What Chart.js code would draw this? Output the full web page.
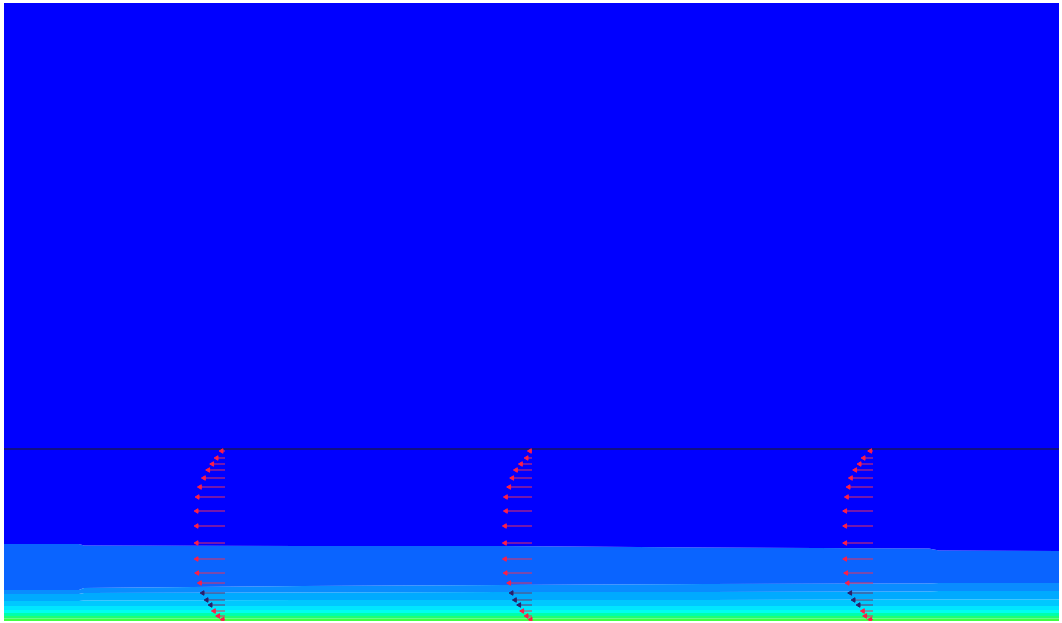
<!DOCTYPE html>
<html>
<head>
<meta charset="utf-8">
<title>Flume velocity profiles</title>
<script src="https://cdn.jsdelivr.net/npm/chart.js@4/dist/chart.umd.min.js"></script>
<style>
  html, body { margin: 0; padding: 0; background: #ffffff; }
  #wrap { position: relative; width: 1062px; height: 623px; }
</style>
</head>
<body>
<div id="wrap"><canvas id="c"></canvas></div>
<script>
// Domain extent (mm)
const DOMAIN_X = [0, 1055];
const DOMAIN_Y = [0, 618];

// Free-surface / interface elevation (mm above bed)
const INTERFACE_Y = 172;

// Contour band boundaries, sampled along the flume
const BOUNDARY_X = [0, 75, 80, 300, 500, 700, 925, 935, 1055];
const BOUNDARY_TOP = [618, 618, 618, 618, 618, 618, 618, 618, 618];
const BOUNDARY_1 = [77, 77, 75.5, 75, 75, 73.5, 72.5, 70.5, 70];
const BOUNDARY_2 = [31, 31, 33, 35, 36, 37, 37.5, 38, 38];
const BOUNDARY_3 = [27, 27, 28, 28.5, 29, 29, 29.5, 30, 30];
const BOUNDARY_4 = [20, 20, 20.5, 21, 21, 21, 21.5, 21.5, 21.5];
const BOUNDARY_5 = [15, 15, 15, 15, 15, 15, 15, 15, 15];
const BOUNDARY_6 = [11, 11, 11, 11, 11, 11, 11, 11, 11];
const BOUNDARY_7 = [8, 8, 8, 8, 8, 8, 8, 8, 8];
const BOUNDARY_8 = [5, 5, 5, 5, 5, 5, 5, 5, 5];
const BOUNDARY_9 = [2.5, 2.5, 2.5, 2.5, 2.5, 2.5, 2.5, 2.5, 2.5];
const BOUNDARY_BED = [0, 0, 0, 0, 0, 0, 0, 0, 0];

// Velocity profile stations and sample heights
const STATION_X = [221, 528, 869];
const PROFILE_HEIGHTS = [170, 163, 157, 151, 143, 134, 124, 110, 95, 78, 62, 48, 38, 28, 21, 16, 10, 5, 1.5];
// Horizontal velocity at each height (negative = towards the left)
const U_STATION_1 = [-3.3, -8.3, -12.7, -16.7, -21, -25, -27.3, -28.3, -28.3, -28.3, -28.3, -27.7, -25, -22.3, -18.3, -14.3, -11, -6.7, -2.3];
const U_STATION_2 = [-2, -5.3, -11, -16, -19.7, -22.7, -26, -26, -27, -27, -27, -26.3, -22.7, -20.3, -17, -12.7, -9.7, -5.3, -1.3];
const U_STATION_3 = [-2.7, -9.3, -13.3, -17.7, -22, -24.3, -26, -27.7, -27.7, -27.7, -27.7, -26.7, -25.3, -22.7, -19.3, -14.3, -10, -7.7, -2.7];

// Rendering settings
const ARROW_SCALE = 1; // mm of arrow length per unit velocity
const BAND_COLORS = ['#0000ff', '#0a64ff', '#0a8cff', '#00aaff', '#00c8ff', '#00e6ff', '#00ffee', '#00ffaa', '#20ff70', '#40ff40'];

const boundaries = [BOUNDARY_TOP, BOUNDARY_1, BOUNDARY_2, BOUNDARY_3, BOUNDARY_4,
  BOUNDARY_5, BOUNDARY_6, BOUNDARY_7, BOUNDARY_8, BOUNDARY_9, BOUNDARY_BED];

const datasets = [];

// Filled contour bands: each boundary fills down to the next one
boundaries.forEach((ys, i) => {
  const isBed = i === boundaries.length - 1;
  datasets.push({
    data: BOUNDARY_X.map((x, k) => ({ x, y: ys[k] })),
    showLine: true,
    pointRadius: 0,
    borderWidth: isBed ? 2 : 0,
    borderColor: isBed ? '#2f4a30' : 'rgba(0,0,0,0)',
    backgroundColor: isBed ? 'rgba(0,0,0,0)' : BAND_COLORS[i],
    fill: isBed ? false : '+1',
    tension: 0,
    order: 10
  });
});

// Interface line
datasets.push({
  data: [{ x: DOMAIN_X[0], y: INTERFACE_Y }, { x: DOMAIN_X[1], y: INTERFACE_Y }],
  showLine: true,
  pointRadius: 0,
  borderWidth: 1.6,
  borderColor: '#16165e',
  fill: false,
  order: 5
});

// Velocity arrows: tail on the station line, head at the tip
const profiles = [U_STATION_1, U_STATION_2, U_STATION_3];
profiles.forEach((u, s) => {
  const x0 = STATION_X[s];
  PROFILE_HEIGHTS.forEach((h, k) => {
    const nearBed = h < 30 && h > 12;
    datasets.push({
      data: [{ x: x0, y: h }, { x: x0 + u[k] * ARROW_SCALE, y: h }],
      showLine: true,
      borderWidth: 1,
      borderColor: nearBed ? '#6a3a6a' : '#e8305a',
      pointStyle: 'triangle',
      pointRotation: 270,
      pointRadius: (ctx) => ctx.dataIndex === 1 ? 2.6 : 0,
      pointBackgroundColor: nearBed ? '#2a1e6a' : '#ff1e46',
      pointBorderColor: nearBed ? '#2a1e6a' : '#ff1e46',
      pointBorderWidth: 1,
      fill: false,
      order: 0
    });
  });
});

new Chart(document.getElementById('c'), {
  type: 'scatter',
  data: { datasets },
  options: {
    responsive: true,
    maintainAspectRatio: false,
    animation: false,
    layout: { autoPadding: false, padding: { left: 4, right: 3, top: 3, bottom: 2 } },
    plugins: {
      legend: { display: false },
      tooltip: { enabled: false }
    },
    events: [],
    scales: {
      x: { type: 'linear', min: DOMAIN_X[0], max: DOMAIN_X[1], display: false },
      y: { type: 'linear', min: DOMAIN_Y[0], max: DOMAIN_Y[1], display: false }
    }
  }
});
</script>
</body>
</html>
